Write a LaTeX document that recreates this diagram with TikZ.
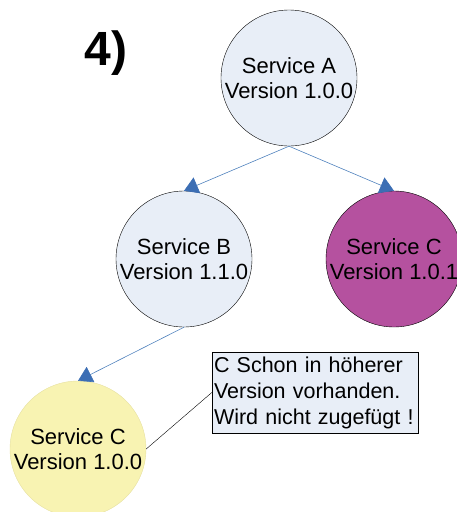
\documentclass[tikz,border=0pt]{standalone}
\usepackage{fontspec}
\setmainfont{Liberation Sans}
\usepackage{tikz}
\usetikzlibrary{positioning}
\usetikzlibrary{arrows.meta}

\definecolor{servblue}{HTML}{E8EEF7}
\definecolor{servmagenta}{HTML}{B5519F}
\definecolor{servyellow}{HTML}{F8F3B2}
\definecolor{yellowline}{HTML}{E6E0A0}
\definecolor{linkblue}{HTML}{4F81BD}
\definecolor{tipblue}{HTML}{3C6EB4}

\begin{document}
\begin{tikzpicture}[x=1pt, y=-1pt,
    service/.style={circle, draw, thin, minimum size=136pt, inner sep=0pt, align=center,
        font=\fontsize{22}{25}\selectfont},
    link/.style={draw=linkblue, line width=0.6pt, -{Triangle[width=17pt, length=14pt, color=tipblue]}},
    notebox/.style={draw, thin, fill=servblue, align=left, text width=202pt, inner xsep=2pt,
        minimum height=81pt, font=\fontsize{21.5}{26}\selectfont}]

    \useasboundingbox (0,0) rectangle (456,512);

    % label
    \node (label) at (106,53) {\fontsize{48}{50}\selectfont\bfseries 4)};

    % draw the nodes
    \node[service, fill=servblue] (serviceA) at (289,78) {Service A\\Version 1.0.0};
    \node[service, fill=servblue] (serviceB) at (184,259) {Service B\\Version 1.1.0};
    \node[service, fill=servmagenta] (serviceCnew) at (394,259) {Service C\\Version 1.0.1};
    \node[service, fill=servyellow, draw=yellowline] (serviceCold) at (78,449) {Service C\\Version 1.0.0};

    % note
    \node[notebox] (note) at (315,392.5) {C Schon in höherer\\Version vorhanden.\\Wird nicht zugefügt !};

    % dependencies
    \path[link] (serviceA.south) -- (serviceB.north);
    \path[link] (serviceA.south) -- (serviceCnew.north);
    \path[link] (serviceB.south) -- (serviceCold.north);
    \path[draw, thin] (note.west) -- (serviceCold.east);

\end{tikzpicture}
\end{document}
